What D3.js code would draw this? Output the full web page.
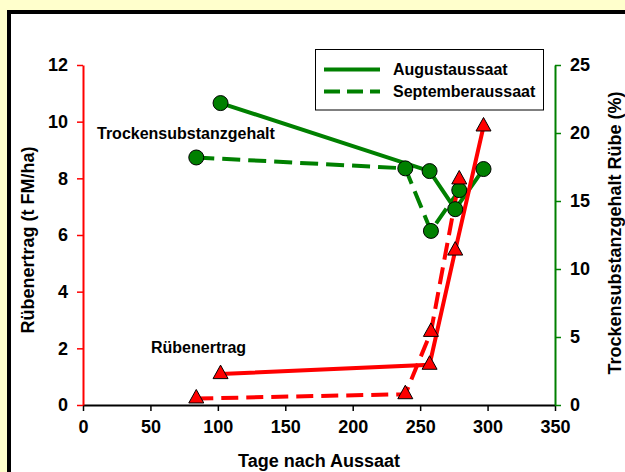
<!DOCTYPE html>
<html>
<head>
<meta charset="utf-8">
<script src="https://cdn.jsdelivr.net/npm/d3@7"></script>
<style>
  html, body { margin: 0; padding: 0; background: #FFFFCC; }
  svg { display: block; }
  text { font-family: "Liberation Sans", Arial, sans-serif; font-weight: bold; fill: #000; }
</style>
</head>
<body>
<svg id="chart" width="625" height="472"></svg>
<script>
// ---- data ----
const xTicks = [0, 50, 100, 150, 200, 250, 300, 350];
const yLeftTicks = [0, 2, 4, 6, 8, 10, 12];
const yRightTicks = [0, 5, 10, 15, 20, 25];

// Rübenertrag (t FM/ha), left axis
const yieldAugDays = [102, 257, 276, 297];
const yieldAugVals = [1.09, 1.42, 5.45, 9.83];
const yieldSepDays = [84, 239, 258, 279];
const yieldSepVals = [0.23, 0.38, 2.58, 7.96];

// Trockensubstanzgehalt Rübe (%), right axis
const dmAugDays = [102, 257, 276, 297];
const dmAugVals = [22.2, 17.2, 14.4, 17.35];
const dmSepDays = [84, 239, 258, 279];
const dmSepVals = [18.2, 17.4, 12.8, 15.8];

const legendLabels = ["Augustaussaat", "Septemberaussaat"];

// ---- drawing ----
const svg = d3.select("#chart");
const RED = "#FF0000", GREEN = "#008000";

svg.append("rect").attr("x", 0).attr("y", 0).attr("width", 625).attr("height", 472).attr("fill", "#FFFFCC");
svg.append("rect").attr("x", 9).attr("y", 12).attr("width", 700).attr("height", 600)
  .attr("fill", "#fff").attr("stroke", "#000").attr("stroke-width", 4);

const x = d3.scaleLinear().domain([0, 350]).range([83, 555]);
const yL = d3.scaleLinear().domain([0, 12]).range([405, 65]);
const yR = d3.scaleLinear().domain([0, 25]).range([405, 65]);

// x axis
const gx = svg.append("g").attr("transform", "translate(0,405)")
  .call(d3.axisBottom(x).tickValues(xTicks).tickSize(6).tickPadding(9).tickSizeOuter(0));
gx.select(".domain").attr("stroke", "#000").attr("stroke-width", 2);
gx.selectAll(".tick line").attr("stroke", "#000").attr("stroke-width", 1.5);
gx.selectAll(".tick text").style("font-size", "18px").style("font-family", "Liberation Sans, Arial, sans-serif").style("font-weight", "bold").attr("fill", "#000");

// left axis
const gl = svg.append("g").attr("transform", "translate(83,0)")
  .call(d3.axisLeft(yL).tickValues(yLeftTicks).tickSize(6).tickPadding(9).tickSizeOuter(0));
gl.select(".domain").attr("stroke", RED).attr("stroke-width", 2);
gl.selectAll(".tick line").attr("stroke", RED).attr("stroke-width", 1.5);
gl.selectAll(".tick text").style("font-size", "18px").style("font-family", "Liberation Sans, Arial, sans-serif").style("font-weight", "bold").attr("fill", "#000");

// right axis
const gr = svg.append("g").attr("transform", "translate(555,0)")
  .call(d3.axisRight(yR).tickValues(yRightTicks).tickSize(6).tickPadding(9).tickSizeOuter(0));
gr.select(".domain").attr("stroke", GREEN).attr("stroke-width", 2);
gr.selectAll(".tick line").attr("stroke", GREEN).attr("stroke-width", 1.5);
gr.selectAll(".tick text").style("font-size", "18px").style("font-family", "Liberation Sans, Arial, sans-serif").style("font-weight", "bold").attr("fill", "#000");

// axis titles
svg.append("text").attr("x", 319).attr("y", 467).attr("text-anchor", "middle")
  .style("font-size", "18px").text("Tage nach Aussaat");
svg.append("text").attr("transform", "translate(34,240) rotate(-90)").attr("text-anchor", "middle")
  .style("font-size", "18px").text("Rübenertrag (t FM/ha)");
svg.append("text").attr("transform", "translate(621,233) rotate(-90)").attr("text-anchor", "middle")
  .style("font-size", "18px").text("Trockensubstanzgehalt Rübe (%)");

const zip = (xs, ys) => xs.map((d, i) => [d, ys[i]]);
const yieldAug = zip(yieldAugDays, yieldAugVals);
const yieldSep = zip(yieldSepDays, yieldSepVals);
const dmAug = zip(dmAugDays, dmAugVals);
const dmSep = zip(dmSepDays, dmSepVals);

const lineL = d3.line().x(d => x(d[0])).y(d => yL(d[1]));
const lineR = d3.line().x(d => x(d[0])).y(d => yR(d[1]));

// green lines
svg.append("path").datum(dmAug).attr("d", lineR).attr("fill", "none").attr("stroke", GREEN).attr("stroke-width", 4);
svg.append("path").datum(dmSep).attr("d", lineR).attr("fill", "none").attr("stroke", GREEN).attr("stroke-width", 4).attr("stroke-dasharray", "18,8");
// red lines
svg.append("path").datum(yieldAug).attr("d", lineL).attr("fill", "none").attr("stroke", RED).attr("stroke-width", 4);
svg.append("path").datum(yieldSep).attr("d", lineL).attr("fill", "none").attr("stroke", RED).attr("stroke-width", 4).attr("stroke-dasharray", "17,8");

// circles
svg.append("g").selectAll("circle").data(dmAug.concat(dmSep)).join("circle")
  .attr("cx", d => x(d[0])).attr("cy", d => yR(d[1])).attr("r", 7.5)
  .attr("fill", GREEN).attr("stroke", "#000").attr("stroke-width", 1);

// triangles
const tri = "M0,-9L7.5,4.5L-7.5,4.5Z";
svg.append("g").selectAll("path").data(yieldAug.concat(yieldSep)).join("path")
  .attr("d", tri).attr("transform", d => `translate(${x(d[0])},${yL(d[1])})`)
  .attr("fill", RED).attr("stroke", "#000").attr("stroke-width", 1);

// annotations
svg.append("text").attr("x", 97).attr("y", 139).style("font-size", "16px").text("Trockensubstanzgehalt");
svg.append("text").attr("x", 151).attr("y", 353).style("font-size", "16px").text("Rübenertrag");

// legend
const lg = svg.append("g");
lg.append("rect").attr("x", 315.5).attr("y", 49.5).attr("width", 228).attr("height", 60.5)
  .attr("fill", "#fff").attr("stroke", "#000").attr("stroke-width", 1);
lg.selectAll("line").data(legendLabels).join("line")
  .attr("x1", 324).attr("x2", 380)
  .attr("y1", (d, i) => 69.5 + i * 22).attr("y2", (d, i) => 69.5 + i * 22)
  .attr("stroke", GREEN).attr("stroke-width", 4)
  .attr("stroke-dasharray", (d, i) => i === 1 ? "16,7" : null);
lg.selectAll("text").data(legendLabels).join("text")
  .attr("x", 393).attr("y", (d, i) => 75 + i * 22)
  .style("font-size", "16px").text(d => d);
</script>
</body>
</html>
